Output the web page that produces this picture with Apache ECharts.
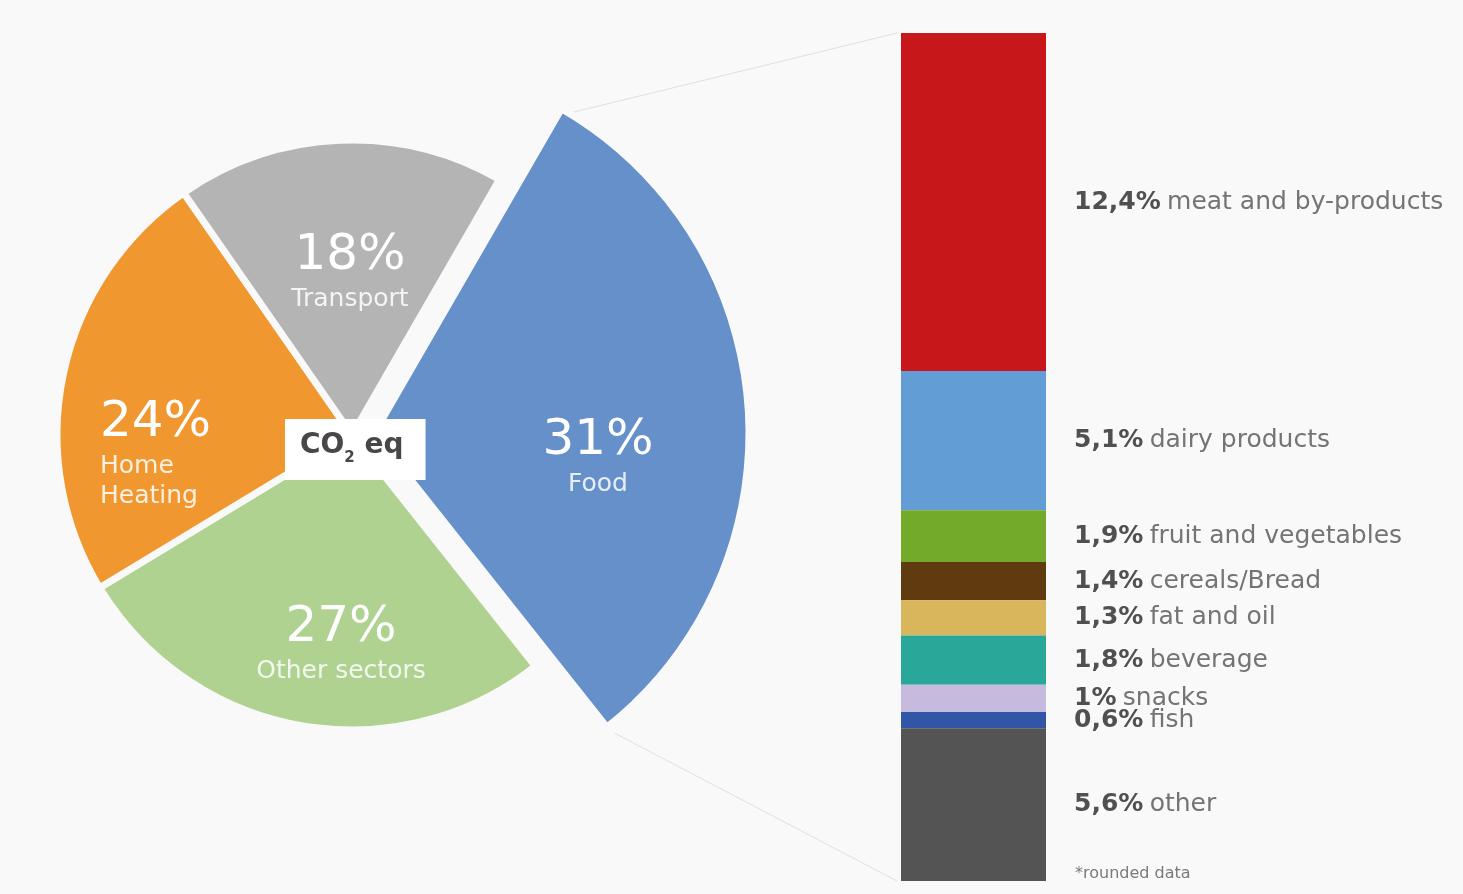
<!DOCTYPE html>
<html>
<head>
<meta charset="utf-8">
<script src="https://cdn.jsdelivr.net/npm/echarts@6/dist/echarts.min.js"></script>
<style>
  html, body { margin: 0; padding: 0; background: #f9f9f9; }
  #main { width: 1463px; height: 894px; }
</style>
</head>
<body>
<div id="main"></div>
<script>
  // CO2 eq by sector (left pie)
  const sectors = ['Food', 'Other sectors', 'Home Heating', 'Transport'];
  const sectorShare = [31, 27, 24, 18];

  // breakdown of the food slice (right stacked bar)
  const foodItems = ['meat and by-products', 'dairy products', 'fruit and vegetables', 'cereals/Bread',
    'fat and oil', 'beverage', 'snacks', 'fish', 'other'];
  const foodShare = [12.4, 5.1, 1.9, 1.4, 1.3, 1.8, 1, 0.6, 5.6];

  const sectorColors = ['#6590c9', '#b0d290', '#f0982f', '#b4b4b4'];
  const foodColors = ['#c8171b', '#629dd6', '#73aa2a', '#603b0f', '#d9b65c', '#29a89a', '#c6bade', '#3156a8', '#545454'];
  // where each pie label sits, measured from the pie centre (home heating is left aligned)
  const labelSpot = [[246, 21], [-11, 208], [-252, 18], [-2, -164]];

  const bg = '#f9f9f9';
  const pieCenter = [352, 435];
  const pieR = 295, foodR = 375, foodOffset = 22;
  const startAngle = 60;
  const gridLeft = 901, gridTop = 33, gridW = 145, gridH = 848;

  const chart = echarts.init(document.getElementById('main'));
  const font = 'DejaVu Sans';
  const foodTotal = foodShare.reduce((a, b) => a + b, 0);

  const fmt = v => (Number.isInteger(v) ? String(v) : v.toFixed(1).replace('.', ',')) + '%';

  const pieRich = align => ({
    p: {align: align, fontSize: 50, lineHeight: 56, color: '#fff', fontFamily: font},
    n: {align: align, fontSize: 25, lineHeight: 30, color: 'rgba(255,255,255,0.85)', fontFamily: font}
  });

  const baseData = sectors.map((name, i) => ({
    name: name,
    value: sectorShare[i],
    itemStyle: i === 0
      ? {color: 'rgba(0,0,0,0)', borderWidth: 0}
      : {color: sectorColors[i], borderColor: bg, borderWidth: 7},
    label: {rich: pieRich(name === 'Home Heating' ? 'left' : 'center')}
  }));

  const foodData = sectors.map((name, i) => ({
    name: name,
    value: sectorShare[i],
    selected: i === 0,
    itemStyle: i === 0
      ? {color: sectorColors[0], borderColor: bg, borderWidth: 7}
      : {color: 'rgba(0,0,0,0)', borderWidth: 0}
  }));

  const barSeries = foodItems.map((name, i) => ({
    name: name,
    type: 'bar',
    stack: 'food',
    barWidth: '100%',
    data: [foodShare[i]],
    itemStyle: {color: foodColors[i]},
    silent: true,
    label: {
      show: true,
      position: 'right',
      distance: 28,
      formatter: '{b|' + fmt(foodShare[i]) + '} {n|' + name + '}',
      rich: {
        b: {fontFamily: font, fontSize: 25, fontWeight: 'bold', color: '#505050'},
        n: {fontFamily: font, fontSize: 25, color: '#747474', padding: [0, 0, 0, 3]}
      }
    }
  }));

  chart.setOption({
    backgroundColor: bg,
    animation: false,
    title: {
      text: '{a|CO}{s|2}{a| eq}',
      left: 285,
      top: 413,
      backgroundColor: '#fff',
      padding: [13, 22, 14, 15],
      textStyle: {
        rich: {
          a: {fontFamily: font, fontSize: 28, fontWeight: 'bold', color: '#474747', lineHeight: 40},
          s: {fontFamily: font, fontSize: 15, fontWeight: 'bold', color: '#474747', lineHeight: 16, verticalAlign: 'bottom'}
        }
      },
      z: 10
    },
    grid: {left: gridLeft, top: gridTop, width: gridW, height: gridH},
    xAxis: {type: 'category', data: ['Food'], show: false},
    yAxis: {type: 'value', min: 0, max: foodTotal, inverse: true, show: false},
    series: [
      {
        type: 'pie',
        z: 3,
        silent: true,
        center: pieCenter,
        radius: [0, pieR],
        startAngle: startAngle,
        data: baseData,
        label: {
          show: true,
          position: 'inside',
          formatter: p => '{p|' + p.value + '%}\n{n|' + p.name.replace('Home ', 'Home\n') + '}'
        },
        labelLine: {show: false},
        labelLayout: p => ({
          x: pieCenter[0] + labelSpot[p.dataIndex][0],
          y: pieCenter[1] + labelSpot[p.dataIndex][1],
          align: sectors[p.dataIndex] === 'Home Heating' ? 'left' : 'center',
          verticalAlign: 'middle'
        }),
        emphasis: {disabled: true}
      },
      {
        type: 'pie',
        z: 2,
        silent: true,
        center: pieCenter,
        radius: [0, foodR],
        startAngle: startAngle,
        selectedMode: 'single',
        selectedOffset: foodOffset,
        data: foodData,
        label: {show: false},
        labelLine: {show: false},
        emphasis: {disabled: true}
      }
    ].concat(barSeries)
  });

  // connector lines from the food slice to the bar
  const total = sectorShare.reduce((a, b) => a + b, 0);
  const foodSweep = sectorShare[0] / total * 360;
  const rad = d => d * Math.PI / 180;
  const mid = rad(startAngle - foodSweep / 2);
  const fc = [pieCenter[0] + foodOffset * Math.cos(mid), pieCenter[1] - foodOffset * Math.sin(mid)];
  const a1 = rad(startAngle), a2 = rad(startAngle - foodSweep);
  const topCorner = [fc[0] + foodR * Math.cos(a1), fc[1] - foodR * Math.sin(a1)];
  const botCorner = [fc[0] + foodR * Math.cos(a2), fc[1] - foodR * Math.sin(a2)];
  const barTop = chart.convertToPixel({gridIndex: 0}, [0, 0]);
  const barBot = chart.convertToPixel({gridIndex: 0}, [0, foodTotal]);

  chart.setOption({
    graphic: [
      {
        type: 'line', silent: true, z: 0,
        shape: {x1: topCorner[0] + 10, y1: topCorner[1] + 4, x2: gridLeft - 4, y2: barTop[1]},
        style: {stroke: '#e0e0e0', lineWidth: 1}
      },
      {
        type: 'line', silent: true, z: 0,
        shape: {x1: botCorner[0] + 8, y1: botCorner[1] + 6, x2: gridLeft - 4, y2: barBot[1]},
        style: {stroke: '#e0e0e0', lineWidth: 1}
      },
      {
        type: 'text', silent: true,
        left: 1075, top: 866,
        style: {text: '*rounded data', fontFamily: font, fontSize: 16, fill: '#7a7a7a'}
      }
    ]
  });
</script>
</body>
</html>
